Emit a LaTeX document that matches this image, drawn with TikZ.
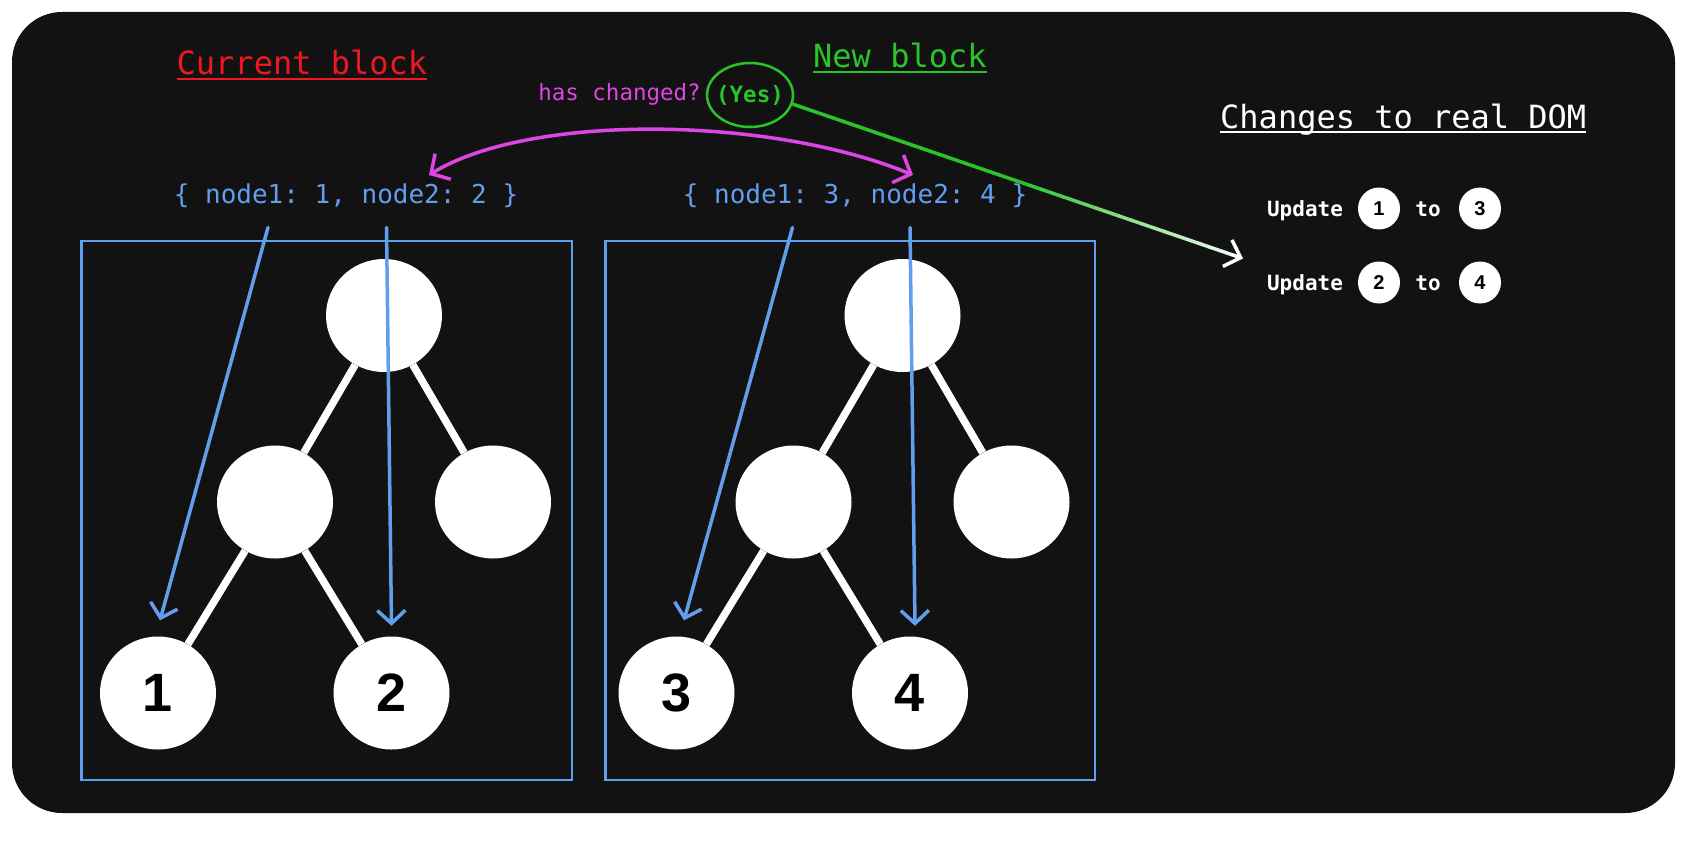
\documentclass[tikz,border=0pt]{standalone}
\usepackage{fontspec}
\setmonofont{DejaVu Sans Mono}
\setsansfont{Liberation Sans}
\usetikzlibrary{positioning,arrows.meta,shapes.geometric,calc}
\definecolor{canvasdark}{RGB}{18,18,18}
\definecolor{codeblue}{RGB}{98,158,238}
\definecolor{curred}{RGB}{240,22,34}
\definecolor{newgreen}{RGB}{42,196,42}
\definecolor{askpink}{RGB}{222,70,228}
\tikzset{
  treenode/.style={ellipse, fill=white, minimum width=116pt, minimum height=113pt, inner sep=0pt, font=\sffamily\bfseries\fontsize{54}{60}\selectfont},
  treeedge/.style={draw=white, line width=7.5pt},
  blockbox/.style={draw=codeblue, line width=2.5pt},
  codetext/.style={font=\ttfamily\fontsize{26}{30}\selectfont, text=codeblue, inner sep=0pt, anchor=base},
  heading/.style={font=\ttfamily\fontsize{32}{38}\selectfont, inner sep=0pt, anchor=base west},
  pointer/.style={-{Straight Barb[length=13pt,width=28pt]}, line width=3.5pt, draw=codeblue, line cap=round, line join=round},
  swaparrow/.style={{Straight Barb[length=14pt,width=30pt]}-{Straight Barb[length=14pt,width=30pt]}, line width=3.5pt, draw=askpink, line cap=round, line join=round},
  updtext/.style={font=\ttfamily\bfseries\fontsize{21}{25}\selectfont, text=white, inner sep=0pt, anchor=base},
  numdot/.style={circle, fill=white, minimum size=42pt, inner sep=0pt, font=\sffamily\bfseries\fontsize{20}{22}\selectfont}
}

\begin{document}
\begin{tikzpicture}[x=1pt, y=-1pt]
  \useasboundingbox (0,0) rectangle (1696,848);
  \fill[white] (0,0) rectangle (1696,848);
  \fill[canvasdark, rounded corners=50pt] (12,12) rectangle (1675,813);

  % titles
  \node[heading, text=curred] (curtitle) at (176.5,75) {Current block};
  \node[heading, text=newgreen] (newtitle) at (813,67.5) {New block};
  \node[heading, text=white] (domtitle) at (1220,128.5) {Changes to real DOM};
  \draw[curred, line width=2pt] ([yshift=-4.5pt]curtitle.base west) -- ([yshift=-4.5pt]curtitle.base east);
  \draw[newgreen, line width=2pt] ([yshift=-4.5pt]newtitle.base west) -- ([yshift=-4.5pt]newtitle.base east);
  \draw[white, line width=2pt] ([yshift=-3.5pt]domtitle.base west) -- ([yshift=-3.5pt]domtitle.base east);

  % blocks
  \node[codetext] (lcode) at (346,203) {\{ node1: 1, node2: 2 \}};
  \node[codetext] (rcode) at (855,203) {\{ node1: 3, node2: 4 \}};
  \draw[blockbox] (81.5,241) rectangle (572,780);
  \draw[blockbox] (605.5,241) rectangle (1095,780);

  % current tree
  \node[treenode] (lroot) at (384,315.5) {};
  \node[treenode] (lmid) at (275,502) {};
  \node[treenode] (lside) at (493,502) {};
  \node[treenode] (lone) at (158,693) {1};
  \node[treenode] (ltwo) at (391.5,693) {2};
  \draw[treeedge] (lroot) -- (lmid);
  \draw[treeedge] (lroot) -- (lside);
  \draw[treeedge] (lmid) -- (lone);
  \draw[treeedge] (lmid) -- (ltwo);

  % new tree
  \node[treenode] (rroot) at (902.5,315.5) {};
  \node[treenode] (rmid) at (793.5,502) {};
  \node[treenode] (rside) at (1011.5,502) {};
  \node[treenode] (rthree) at (676.5,693) {3};
  \node[treenode] (rfour) at (910,693) {4};
  \draw[treeedge] (rroot) -- (rmid);
  \draw[treeedge] (rroot) -- (rside);
  \draw[treeedge] (rmid) -- (rthree);
  \draw[treeedge] (rmid) -- (rfour);

  % pointers into the trees
  \coordinate (lfrom1) at (268,227.5);
  \coordinate (lfrom2) at (386.5,227.5);
  \coordinate (rfrom1) at (792.5,227.5);
  \coordinate (rfrom2) at (910,227.5);
  \draw[pointer] (lfrom1) -- ([xshift=2pt,yshift=16pt]lone.north);
  \draw[pointer] (lfrom2) -- ([yshift=10.5pt]ltwo.north);
  \draw[pointer] (rfrom1) -- ([xshift=7.5pt,yshift=16pt]rthree.north);
  \draw[pointer] (rfrom2) -- ([xshift=5pt,yshift=10.5pt]rfour.north);

  % comparison
  \node[font=\ttfamily\fontsize{22.5}{26}\selectfont, text=askpink, inner sep=0pt, anchor=base east] (asklabel) at (701,100.5) {has changed?};
  \node[ellipse, draw=newgreen, line width=2.5pt, minimum width=86pt, minimum height=64pt, inner xsep=-4pt, inner ysep=0pt, text=newgreen, font=\ttfamily\bfseries\fontsize{22.5}{26}\selectfont] (yes) at (750,95) {(Yes)};
  \coordinate (swapL) at (429,175);
  \coordinate (swapR) at (913,175);
  \draw[swaparrow] (swapL) .. controls (530,113) and (770,116) .. (swapR);

  % green to white arrow
  \coordinate (domtip) at (1243,258.5);
  \draw[newgreen, line width=3.5pt] (yes.-12) -- ($(yes.-12)!0.5!(domtip)$);
  \foreach \k in {0,...,18}{
    \pgfmathtruncatemacro\fade{100-5*\k}
    \draw[newgreen!\fade!white, line width=3.5pt, line cap=round] ($(yes.-12)!{0.5+0.025*\k}!(domtip)$) -- ($(yes.-12)!{0.525+0.025*\k}!(domtip)$);
  }
  \draw[white, line width=3.5pt, line cap=round, line join=round, -{Straight Barb[length=14pt,width=28pt]}] ($(yes.-12)!0.975!(domtip)$) -- (domtip);

  % changes
  \node[updtext] (upd1) at (1305,216.5) {Update};
  \node[numdot] (old1) at (1379,208.5) {1};
  \node[updtext] (to1) at (1428,216.5) {to};
  \node[numdot] (new1) at (1480,208.5) {3};
  \node[updtext] (upd2) at (1305,290.5) {Update};
  \node[numdot] (old2) at (1379,282.5) {2};
  \node[updtext] (to2) at (1428,290.5) {to};
  \node[numdot] (new2) at (1480,282.5) {4};
\end{tikzpicture}
\end{document}
